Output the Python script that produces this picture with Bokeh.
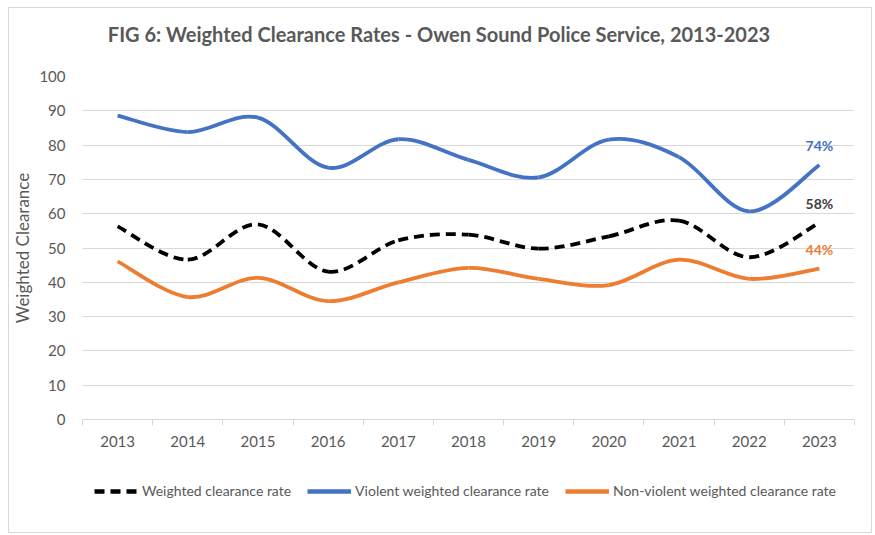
from bokeh.plotting import figure
from bokeh.layouts import column
from bokeh.models import FixedTicker, Legend, LegendItem, Label, ColumnDataSource
from bokeh.embed import file_html
from bokeh.resources import INLINE

years = [2013, 2014, 2015, 2016, 2017, 2018, 2019, 2020, 2021, 2022, 2023]
weighted = [56.3, 46.6, 56.9, 43.1, 52.2, 53.9, 49.8, 53.4, 58.0, 47.3, 57.4]
violent = [88.6, 83.8, 88.0, 73.4, 81.7, 75.7, 70.6, 81.6, 76.5, 60.7, 74.2]
nonviolent = [46.1, 35.7, 41.3, 34.5, 40.0, 44.2, 41.0, 39.2, 46.6, 41.0, 44.0]
end_labels = ["58%", "74%", "44%"]
series_names = ["Weighted clearance rate", "Violent weighted clearance rate",
                "Non-violent weighted clearance rate"]
y_ticks = [0, 10, 20, 30, 40, 50, 60, 70, 80, 90, 100]
title_text = "FIG 6: Weighted Clearance  Rates - Owen Sound Police Service, 2013-2023"

FONT = "Lato"
GRAY = "#595959"
colors = ["black", "#4472C4", "#ED7D31"]
dashes = ["10 6", "solid", "solid"]

W = 862

# header figure holding the title
hf = figure(width=W, height=52, output_backend="svg", toolbar_location=None,
            x_range=(0, 1), y_range=(0, 52), min_border=0)
hf.axis.visible = False
hf.grid.visible = False
hf.outline_line_color = None
hf.add_layout(Label(x=0.5, y=27, x_offset=-27, text=title_text, text_color=GRAY,
                    text_font=FONT, text_font_size="20px", text_font_style="bold",
                    text_align="center", text_baseline="middle"))

p = figure(width=W, height=402, output_backend="svg", toolbar_location=None,
           x_range=(years[0] - 0.5, years[-1] + 0.5), y_range=(0, 100),
           min_border_left=71, min_border_right=17, min_border_top=16, min_border_bottom=43)
p.outline_line_color = None
p.background_fill_color = "white"

# axes
boundaries = [y - 0.5 for y in years] + [years[-1] + 0.5]
p.xaxis.ticker = FixedTicker(ticks=years, minor_ticks=boundaries)
p.xaxis.axis_line_color = "#d9d9d9"
p.xaxis.major_tick_line_color = None
p.xaxis.minor_tick_line_color = "#d9d9d9"
p.xaxis.minor_tick_out = 6
p.xaxis.minor_tick_in = 0
p.xaxis.major_tick_out = 0
p.xaxis.major_tick_in = 0
p.xaxis.major_label_standoff = 10
p.xaxis.major_label_text_font = FONT
p.xaxis.major_label_text_font_size = "15px"
p.xaxis.major_label_text_color = GRAY

p.yaxis.ticker = FixedTicker(ticks=y_ticks)
p.yaxis.axis_line_color = None
p.yaxis.major_tick_line_color = None
p.yaxis.minor_tick_line_color = None
p.yaxis.major_label_standoff = 11
p.yaxis.major_label_text_font = FONT
p.yaxis.major_label_text_font_size = "15px"
p.yaxis.major_label_text_color = GRAY
p.yaxis.axis_label = "Weighted Clearance"
p.yaxis.axis_label_text_font = FONT
p.yaxis.axis_label_text_font_size = "17px"
p.yaxis.axis_label_text_font_style = "normal"
p.yaxis.axis_label_text_color = GRAY
p.yaxis.axis_label_standoff = 3

p.xgrid.grid_line_color = None
p.ygrid.grid_line_color = "#d9d9d9"
p.ygrid.grid_line_width = 1


def smooth_segments(xs, ys):
    n = len(xs)
    pts = list(zip(xs, ys))
    d = dict(x0=[], y0=[], x1=[], y1=[], cx0=[], cy0=[], cx1=[], cy1=[])
    for i in range(n - 1):
        p0 = pts[max(i - 1, 0)]
        p1 = pts[i]
        p2 = pts[i + 1]
        p3 = pts[min(i + 2, n - 1)]
        d["x0"].append(p1[0]); d["y0"].append(p1[1])
        d["x1"].append(p2[0]); d["y1"].append(p2[1])
        d["cx0"].append(p1[0] + (p2[0] - p0[0]) / 6.0)
        d["cy0"].append(p1[1] + (p2[1] - p0[1]) / 6.0)
        d["cx1"].append(p2[0] - (p3[0] - p1[0]) / 6.0)
        d["cy1"].append(p2[1] - (p3[1] - p1[1]) / 6.0)
    return ColumnDataSource(d)


# legend-only figure below the chart
lf = figure(width=W, height=70, output_backend="svg", toolbar_location=None,
            x_range=(0, 1), y_range=(0, 1), min_border=0)
lf.axis.visible = False
lf.grid.visible = False
lf.outline_line_color = None

series = [weighted, violent, nonviolent]
legend_items = []
for vals, col, dash, name in zip(series, colors, dashes, series_names):
    src = smooth_segments(years, vals)
    p.bezier(x0="x0", y0="y0", x1="x1", y1="y1", cx0="cx0", cy0="cy0",
             cx1="cx1", cy1="cy1", source=src, line_color=col, line_width=3.8,
             line_dash=dash)
    dummy = lf.line(x=[0.5], y=[float("nan")], line_color=col, line_width=4.5,
                    line_dash=dash)
    legend_items.append(LegendItem(label=name, renderers=[dummy]))

label_colors = ["#404040", "#4472C4", "#ED7D31"]
for vals, txt, col in zip(series, end_labels, label_colors):
    p.add_layout(Label(x=years[-1], y=vals[-1], text=txt, text_color=col,
                       text_font=FONT, text_font_size="14px",
                       text_font_style="bold", text_align="center",
                       text_baseline="bottom", y_offset=11))

legend = Legend(items=legend_items, orientation="horizontal", location=(12, 33),
                border_line_color=None, background_fill_alpha=0,
                label_text_font=FONT, label_text_font_size="14px",
                label_text_color=GRAY, glyph_width=44, glyph_height=16,
                label_standoff=4, spacing=16, margin=0, padding=4)
lf.add_layout(legend, "center")

layout = column(hf, p, lf, spacing=0, margin=(7, 0, 0, 8),
                styles={"border": "1px solid #d9d9d9"})

open("out.html", "w").write(file_html(layout, INLINE))
